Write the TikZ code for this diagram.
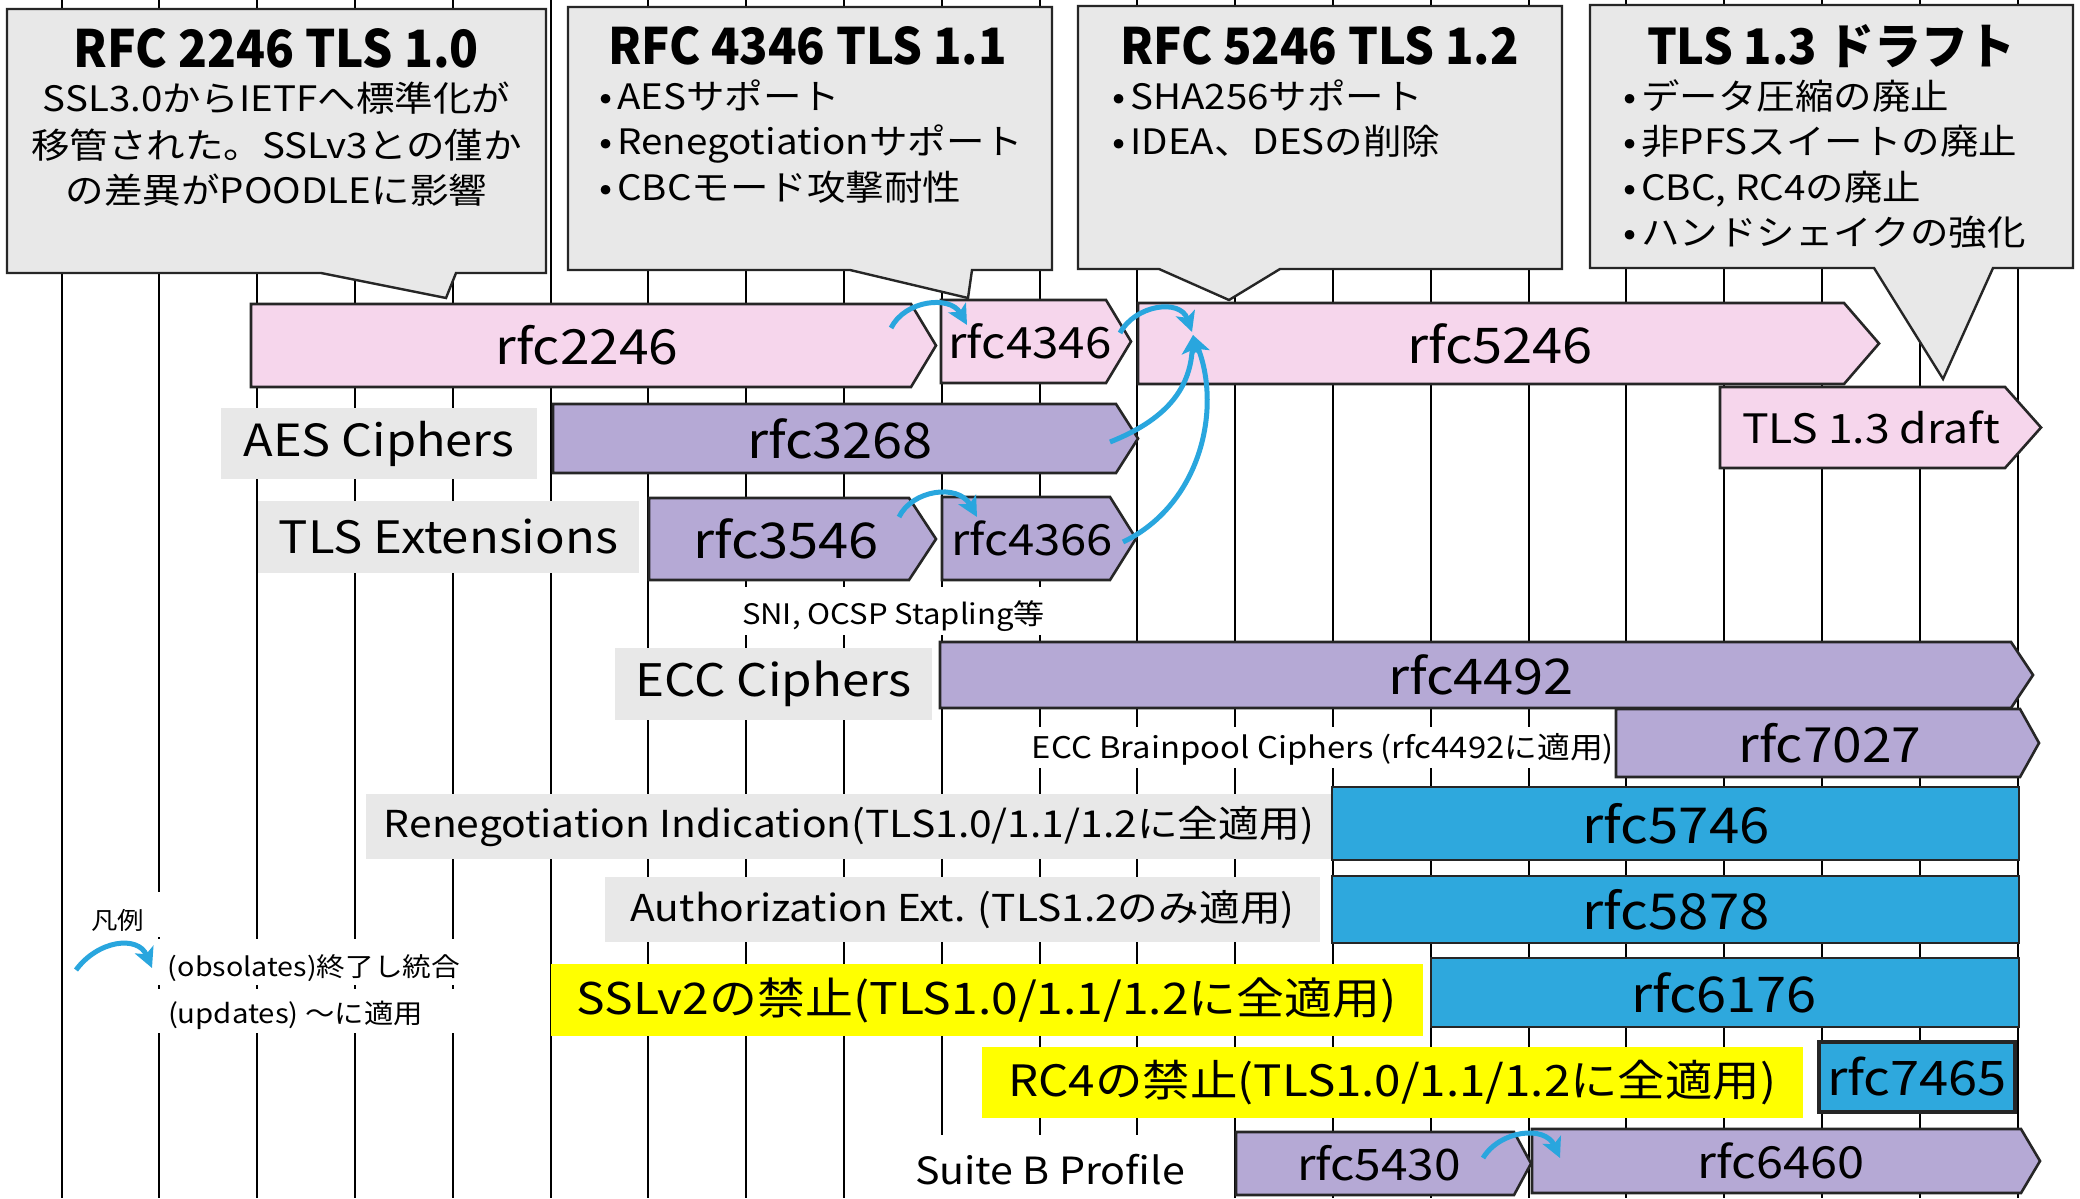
\documentclass[tikz,border=0pt]{standalone}
\usepackage{fontspec}
\setmainfont{Noto Sans CJK JP}[FakeStretch=1.1]
\usetikzlibrary{arrows.meta}
\newdimen\pxu \pxu=0.5pt
\newcommand\fw[2]{\resizebox{#1\pxu}{!}{#2}}
\newcommand\fwh[3]{\resizebox{#1\pxu}{#2\pxu}{#3}}
\newcommand\bl{\makebox[23\pxu][c]{•}}
\definecolor{cpink}{RGB}{246,214,236}
\definecolor{cpurp}{RGB}{181,169,213}
\definecolor{cblue}{RGB}{46,168,221}
\definecolor{cgray}{RGB}{232,232,232}
\definecolor{cyel}{RGB}{255,255,0}
\definecolor{carrow}{RGB}{41,166,222}
\begin{document}
\begin{tikzpicture}[x=0.5pt,y=-0.5pt,
  vline/.style={line width=1pt,black},
  callout/.style={fill=cgray,draw=black!85,line width=1.2pt},
  barshape/.style={draw=black!85,line width=1.3pt},
  bartxt/.style={inner sep=0pt},
  lbl/.style={inner sep=0pt,fill=cgray},
  ylbl/.style={inner sep=0pt,fill=cyel},
  note/.style={inner sep=0pt},
  ttl/.style={inner sep=0pt,anchor=base,font=\bfseries},
  ctr/.style={inner sep=0pt,anchor=base,font=\fontsize{17.5}{20}\selectfont},
  bul/.style={inner sep=0pt,anchor=base west,font=\fontsize{17.5}{20}\selectfont},
  obs/.style={draw=carrow,line width=2.5pt,-{Stealth[length=10pt,width=10pt,inset=2.5pt]}},
]
\useasboundingbox (0,0) rectangle (2080,1198);
\fill[white] (0,0) rectangle (2080,1198);
% grid lines
\foreach \i in {0,...,20} \draw[vline] ({61.5+97.8*\i},0) -- ({61.5+97.8*\i},1198);
% white backgrounds for free texts
\fill[white] (737,587) rectangle (1050,635);
\fill[white] (1027,727) rectangle (1616,768);
\fill[white] (905,1135) rectangle (1200,1198);
\fill[white] (82,892) rectangle (165,937);
\fill[white] (158,939) rectangle (466,985);
\fill[white] (158,989) rectangle (466,1033);
% callouts
\draw[callout] (7,9) -- (546,9) -- (546,273) -- (456,273) -- (446,298) -- (321,273) -- (7,273) -- cycle;
\draw[callout] (568,7) -- (1052,7) -- (1052,270) -- (972,270) -- (968,298) -- (850,270) -- (568,270) -- cycle;
\draw[callout] (1078,6) -- (1562,6) -- (1562,269) -- (1280,269) -- (1229,300) -- (1159,269) -- (1078,269) -- cycle;
\draw[callout] (1590,5) -- (2073,5) -- (2073,268) -- (1993,268) -- (1943,379) -- (1874,268) -- (1590,268) -- cycle;
\node[ttl] (t1) at (276.5,68) {\fwh{405}{39}{RFC 2246 TLS 1.0}};
\node[ttl] (t2) at (807.5,65) {\fwh{399}{38}{RFC 4346 TLS 1.1}};
\node[ttl] (t3) at (1319.5,65) {\fwh{399}{38}{RFC 5246 TLS 1.2}};
\node[ttl] (t4) at (1831,65) {\fwh{368}{40}{TLS 1.3 ドラフト}};
\node[ctr] (l11) at (276.5,112) {SSL3.0からIETFへ標準化が};
\node[ctr] (l12) at (276.5,159) {移管された。SSLv3との僅か};
\node[ctr] (l13) at (276.5,204) {の差異がPOODLEに影響};
\node[bul] (l21) at (594,110) {\bl AESサポート};
\node[bul] (l22) at (594,155) {\bl Renegotiationサポート};
\node[bul] (l23) at (594,201) {\bl CBCモード攻撃耐性};
\node[bul] (l31) at (1107,110) {\bl SHA256サポート};
\node[bul] (l32) at (1107,155) {\bl IDEA、DESの削除};
\node[bul] (l41) at (1618,110) {\bl データ圧縮の廃止};
\node[bul] (l42) at (1618,155) {\bl 非PFSスイートの廃止};
\node[bul] (l43) at (1618,200) {\bl CBC, RC4の廃止};
\node[bul] (l44) at (1618,245) {\bl ハンドシェイクの強化};
% labels
\node[lbl,minimum width=158.25pt,minimum height=35.5pt] (lAES) at (379,443.5) {\fw{271}{AES Ciphers}};
\node[lbl,minimum width=190.5pt,minimum height=36pt] (lTLS) at (448.5,537) {\fw{339}{TLS Extensions}};
\node[lbl,minimum width=158.5pt,minimum height=36pt] (lECC) at (773.5,684) {\fw{276}{ECC Ciphers}};
\node[lbl,minimum width=483pt,minimum height=32.5pt] (lRen) at (849,826.5) {\fw{930}{Renegotiation Indication(TLS1.0/1.1/1.2に全適用)}};
\node[lbl,minimum width=357.5pt,minimum height=32.5pt] (lAut) at (962.5,909.5) {\fw{664}{Authorization Ext. (TLS1.2のみ適用)}};
\node[ylbl,minimum width=436pt,minimum height=36pt] (lSSL) at (987,1000) {\fw{820}{SSLv2の禁止(TLS1.0/1.1/1.2に全適用)}};
\node[ylbl,minimum width=410.5pt,minimum height=35.5pt] (lRC4) at (1392.5,1082.5) {\fw{768}{RC4の禁止(TLS1.0/1.1/1.2に全適用)}};
% free notes
\node[note] (nSNI) at (893.5,616.5) {\fw{303}{SNI, OCSP Stapling等}};
\node[note] (nECC) at (1323,749) {\fw{582}{ECC Brainpool Ciphers (rfc4492に適用)}};
\node[note] (nSB) at (1050,1170) {\fw{270}{Suite B Profile}};
\node[note] (leg) at (117.5,920) {\fw{53}{凡例}};
\node[note] (lobs) at (314,968.5) {\fw{292}{(obsolates)終了し統合}};
\node[note] (lupd) at (295.5,1015) {\fw{255}{(updates) ～に適用}};
% bars
\draw[barshape,fill=cpink] (251,304) -- (911,304) -- (936,345.5) -- (911,387) -- (251,387) -- cycle;
\node[bartxt] (b2246) at (587,345.5) {\fw{183}{rfc2246}};
\draw[barshape,fill=cpink] (941,300) -- (1106,300) -- (1131,341.5) -- (1106,383) -- (941,383) -- cycle;
\node[bartxt] (b4346) at (1030,341.5) {\fw{163}{rfc4346}};
\draw[barshape,fill=cpink] (1138,303) -- (1844,303) -- (1879,343.5) -- (1844,384) -- (1138,384) -- cycle;
\node[bartxt] (b5246) at (1500,343.5) {\fw{186}{rfc5246}};
\draw[barshape,fill=cpink] (1720,387) -- (2005,387) -- (2041,427.5) -- (2005,468) -- (1720,468) -- cycle;
\node[bartxt] (b13) at (1871,427.5) {\fw{258}{TLS 1.3 draft}};
\draw[barshape,fill=cpurp] (553,404) -- (1116,404) -- (1138,438.5) -- (1116,473) -- (553,473) -- cycle;
\node[bartxt] (b3268) at (840,438.5) {\fw{186}{rfc3268}};
\draw[barshape,fill=cpurp] (649,498) -- (909,498) -- (936,539) -- (909,580) -- (649,580) -- cycle;
\node[bartxt] (b3546) at (786,539) {\fw{186}{rfc3546}};
\draw[barshape,fill=cpurp] (942,497) -- (1110,497) -- (1136,538.5) -- (1110,580) -- (942,580) -- cycle;
\node[bartxt] (b4366) at (1032,538.5) {\fw{162}{rfc4366}};
\draw[barshape,fill=cpurp] (940,642) -- (2011,642) -- (2033,675) -- (2011,708) -- (940,708) -- cycle;
\node[bartxt] (b4492) at (1481,675) {\fw{186}{rfc4492}};
\draw[barshape,fill=cpurp] (1616,709) -- (2020,709) -- (2039,743) -- (2020,777) -- (1616,777) -- cycle;
\node[bartxt] (b7027) at (1830,743) {\fw{183}{rfc7027}};
\draw[barshape,fill=cblue] (1332,787) rectangle (2019,860);
\node[bartxt] (b5746) at (1676,823.5) {\fw{187}{rfc5746}};
\draw[barshape,fill=cblue] (1332,876) rectangle (2019,943);
\node[bartxt] (b5878) at (1676,909.5) {\fw{187}{rfc5878}};
\draw[barshape,fill=cblue] (1431,958) rectangle (2019,1027);
\node[bartxt] (b6176) at (1724,992.5) {\fw{186}{rfc6176}};
\draw[barshape,fill=cblue,line width=2pt] (1819,1042) rectangle (2015,1112);
\node[bartxt] (b7465) at (1917,1077) {\fw{180}{rfc7465}};
\draw[barshape,fill=cpurp] (1236,1132) -- (1514,1132) -- (1531,1163.5) -- (1514,1195) -- (1236,1195) -- cycle;
\node[bartxt] (b5430) at (1379,1163.5) {\fw{164}{rfc5430}};
\draw[barshape,fill=cpurp] (1532,1129) -- (2021,1129) -- (2040,1161) -- (2021,1193) -- (1532,1193) -- cycle;
\node[bartxt] (b6460) at (1781,1161) {\fw{167}{rfc6460}};
% obsolates / updates arrows
\draw[obs] ([shift={(304,-17.5)}]b2246.center) .. controls (905,300) and (950,295) .. ([shift={(-63,-16.5)}]b4346.center);
\draw[obs] ([shift={(90,-8.5)}]b4346.center) .. controls (1135,305) and (1180,298) .. ([shift={(-308,-11.5)}]b5246.center);
\draw[obs] ([shift={(270,3.5)}]b3268.center) .. controls (1165,420) and (1190,390) .. ([shift={(-307,-8.5)}]b5246.center);
\draw[obs] ([shift={(91,3.5)}]b4366.center) .. controls (1200,505) and (1222,410) .. ([shift={(-307,-8.5)}]b5246.center);
\draw[obs] ([shift={(113,-22)}]b3546.center) .. controls (912,490) and (958,483) .. ([shift={(-55,-21.5)}]b4366.center);
\draw[obs] ([shift={(104,-5.5)}]b5430.center) .. controls (1500,1130) and (1545,1125) .. ([shift={(-221,-3)}]b6460.center);
\coordinate (legA) at (76,970);
\coordinate (legB) at (152,968);
\draw[obs] (legA) .. controls (98,940) and (138,935) .. (legB);
\end{tikzpicture}
\end{document}
